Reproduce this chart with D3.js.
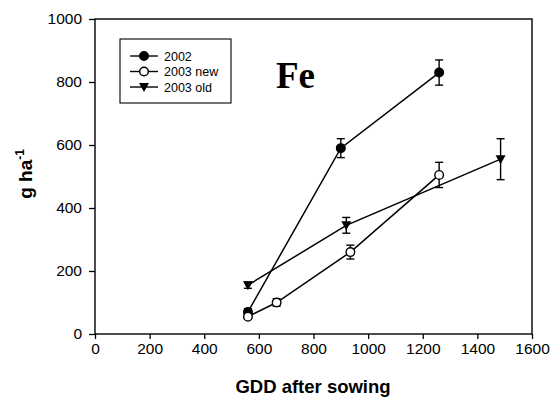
<!DOCTYPE html>
<html>
<head>
<meta charset="utf-8">
<script src="https://cdn.jsdelivr.net/npm/d3@7"></script>
<style>
  body { margin: 0; background: #fff; }
  svg { display: block; }
  text { font-family: Arial, "Liberation Sans", sans-serif; fill: #000; }
</style>
</head>
<body>
<div class="graph"></div>
<script>
// GDD after sowing, yield in g/ha, and error bar half-widths
const x2002 = [560, 900, 1260];
const y2002 = [70, 590, 830];
const e2002 = [10, 30, 40];

const x2003new = [560, 665, 935, 1260];
const y2003new = [55, 100, 260, 505];
const e2003new = [8, 12, 22, 40];

const x2003old = [560, 920, 1485];
const y2003old = [155, 345, 555];
const e2003old = [10, 25, 65];

const xTicks = [0, 200, 400, 600, 800, 1000, 1200, 1400, 1600];
const yTicks = [0, 200, 400, 600, 800, 1000];

const seriesNames = ['2002', '2003 new', '2003 old'];

const dim = { w: 553, h: 398, left: 95, right: 532, top: 19, bottom: 334 };

const svg = d3.select('.graph')
    .append('svg')
    .attr('width', dim.w)
    .attr('height', dim.h);

const xScale = d3.scaleLinear().domain([0, 1600]).range([dim.left, dim.right]);
const yScale = d3.scaleLinear().domain([0, 1000]).range([dim.bottom, dim.top]);

// frame
svg.append('rect')
    .attr('x', dim.left).attr('y', dim.top)
    .attr('width', dim.right - dim.left).attr('height', dim.bottom - dim.top)
    .attr('fill', 'none').attr('stroke', '#000').attr('stroke-width', 1.4);

const xAxis = d3.axisBottom(xScale).tickValues(xTicks).tickSize(5).tickPadding(4).tickFormat(d3.format('d'));
svg.append('g')
    .attr('transform', `translate(0,${dim.bottom})`)
    .call(xAxis)
    .call(g => g.select('.domain').remove())
    .call(g => g.selectAll('line').attr('stroke-width', 1.3))
    .call(g => g.selectAll('text').style('font-size', '15.5px').style('font-family', 'Arial, sans-serif'));

const yAxis = d3.axisLeft(yScale).tickValues(yTicks).tickSize(6).tickPadding(7).tickFormat(d3.format('d'));
svg.append('g')
    .attr('transform', `translate(${dim.left},0)`)
    .call(yAxis)
    .call(g => g.select('.domain').remove())
    .call(g => g.selectAll('line').attr('stroke-width', 1.3))
    .call(g => g.selectAll('text').style('font-size', '15.5px').style('font-family', 'Arial, sans-serif'));

// axis titles
svg.append('text')
    .attr('x', 313).attr('y', 393)
    .attr('text-anchor', 'middle')
    .style('font-size', '18.5px').style('font-weight', 'bold')
    .text('GDD after sowing');

const yt = svg.append('text')
    .attr('transform', `translate(32,174) rotate(-90)`)
    .attr('text-anchor', 'middle')
    .style('font-size', '19px').style('font-weight', 'bold');
yt.append('tspan').text('g ha');
yt.append('tspan').attr('dy', -8).style('font-size', '12px').text('-1');

// Fe label
svg.append('text')
    .attr('x', 276).attr('y', 88)
    .style('font-family', '"Liberation Serif", "Times New Roman", serif')
    .style('font-size', '37px').style('font-weight', 'bold')
    .text('Fe');

const series = [
    { xs: x2002, ys: y2002, es: e2002, marker: 'dot' },
    { xs: x2003new, ys: y2003new, es: e2003new, marker: 'open' },
    { xs: x2003old, ys: y2003old, es: e2003old, marker: 'tri' }
];

const line = d3.line().x(d => xScale(d.x)).y(d => yScale(d.y));

const drawMarker = (g, type, cx, cy) => {
    if (type === 'tri') {
        g.append('path')
            .attr('d', `M${cx - 5},${cy - 4}L${cx + 5},${cy - 4}L${cx},${cy + 5}Z`)
            .attr('fill', '#000');
    } else {
        g.append('circle')
            .attr('cx', cx).attr('cy', cy).attr('r', 4.3)
            .attr('fill', type === 'dot' ? '#000' : '#fff')
            .attr('stroke', '#000').attr('stroke-width', 1.4);
    }
}

series.forEach(s => {
    const pts = s.xs.map((x, i) => ({ x: x, y: s.ys[i], e: s.es[i] }));
    const g = svg.append('g');
    g.append('path').datum(pts)
        .attr('d', line)
        .attr('fill', 'none').attr('stroke', '#000').attr('stroke-width', 1.5);
    pts.forEach(p => {
        const cx = xScale(p.x);
        const top = yScale(p.y + p.e), bot = yScale(p.y - p.e);
        g.append('line').attr('x1', cx).attr('x2', cx).attr('y1', top).attr('y2', bot)
            .attr('stroke', '#000').attr('stroke-width', 1.4);
        [top, bot].forEach(yy => g.append('line')
            .attr('x1', cx - 4).attr('x2', cx + 4).attr('y1', yy).attr('y2', yy)
            .attr('stroke', '#000').attr('stroke-width', 1.4));
    });
    pts.forEach(p => drawMarker(g, s.marker, xScale(p.x), yScale(p.y)));
});

// legend
const legend = svg.append('g');
legend.append('rect')
    .attr('x', 120).attr('y', 39).attr('width', 111).attr('height', 64)
    .attr('fill', '#fff').attr('stroke', '#000').attr('stroke-width', 1.1);
seriesNames.forEach((name, i) => {
    const ly = 56 + i * 15.5;
    legend.append('line').attr('x1', 130).attr('x2', 158).attr('y1', ly).attr('y2', ly)
        .attr('stroke', '#000').attr('stroke-width', 1.4);
    drawMarker(legend, series[i].marker, 144, ly);
    legend.append('text').attr('x', 164).attr('y', ly + 4.5)
        .style('font-size', '12.5px')
        .text(name);
});
</script>
</body>
</html>
